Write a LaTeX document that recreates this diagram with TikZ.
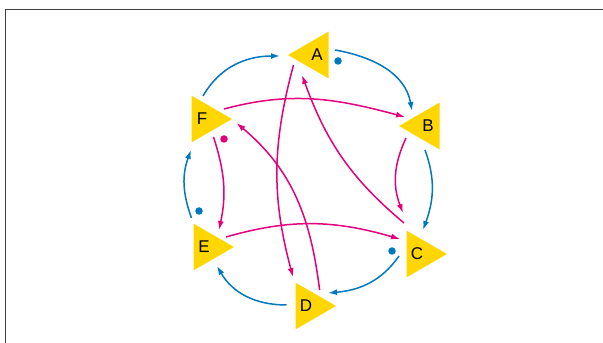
\documentclass[tikz,border=0pt]{standalone}
\usepackage{fontspec}
\setmainfont{Liberation Sans}
\usetikzlibrary{calc,
shapes.geometric,
arrows.meta,
positioning}
\definecolor{ringblue}{RGB}{0,120,190}
\definecolor{chordred}{RGB}{228,0,124}
\definecolor{tokyellow}{RGB}{255,214,0}

\begin{document}
\begin{tikzpicture} [x = 1pt, y = 1pt,
    -{Latex[length=9pt, width=6pt]},
    line width = 1.5pt,
    tri node/.style={regular polygon, regular polygon sides = 3,
        fill = tokyellow, draw = none, inner sep = 0pt,
        minimum size = 54pt, font = \fontsize{17}{17}\selectfont},
    left tri/.style={tri node, shape border rotate = 90,
        execute at begin node = \hspace*{4pt}},
    right tri/.style={tri node, shape border rotate = -90,
        execute at end node = \hspace*{6pt}},
    dot/.style={circle, inner sep = 0pt, minimum size = 7.5pt},
    ring/.style={draw = ringblue},
    chord/.style={draw = chordred}
  ]

  \useasboundingbox (0,0) rectangle (603,343);

  % frame
  \draw [-, line width = 1.1pt, black!75] (5.5,0) -- (5.5,333.7) -- (603,333.7);

  \node [left tri] (A) at (315,288) {A};
  \node [left tri] (B) at (426,217) {B};
  \node [right tri] (C) at (420,89) {C};
  \node [right tri] (D) at (309,37) {D};
  \node [right tri] (E) at (207,96) {E};
  \node [right tri] (F) at (205,224) {F};

  \node [dot, fill = ringblue] (dotA) at ($(A) + (23,-6)$) {};
  \node [dot, fill = chordred] (dotF) at ($(F) + (19,-20)$) {};
  \node [dot, fill = ringblue] (dotE) at ($(E) + (-8,36)$) {};
  \node [dot, fill = ringblue] (dotC) at ($(C) + (-28,3)$) {};

  % outer ring
  \draw [ring] ($(F) + (-2,23)$) to [out = 60, in = 180] ($(A) + (-35,-1)$);
  \draw [ring] ($(A) + (20,5)$) to [out = -10, in = 100] ($(B) + (-14,15)$);
  \draw [ring] ($(B) + (-1,-24)$) to [out = -70, in = 70] ($(C) + (3,24)$);
  \draw [ring] ($(C) + (-21,-2)$) to [out = -125, in = 5] ($(D) + (19,13)$);
  \draw [ring] ($(D) + (-22.5,1)$) to [out = 180, in = -60] ($(E) + (10,-19)$);
  \draw [ring] ($(E) + (-15.5,29)$) to [out = 110, in = -110] ($(F) + (-14,-31)$);

  % chords
  \draw [chord] ($(F) + (19,10)$) to [out = 15, in = 165] ($(B) + (-21,9)$);
  \draw [chord] ($(E) + (19,10)$) to [out = 16, in = 164] ($(C) + (-20,15)$);
  \draw [chord] ($(F) + (8.5,-18)$) to [out = -72, in = 78] ($(E) + (12,17)$);
  \draw [chord] ($(B) + (-20,-12)$) to [out = -115, in = 111] ($(C) + (-17,41)$);
  \draw [chord] ($(A) + (-21.5,-10)$) to [out = -105, in = 105] ($(D) + (-16,29)$);
  \draw [chord] ($(D) + (10.6,16)$) to [out = 97, in = -40] ($(F) + (31.5,-4)$);
  \draw [chord] ($(C) + (-16,31)$) to [out = 140, in = -70] ($(A) + (-13,-20)$);

\end{tikzpicture}
\end{document}
